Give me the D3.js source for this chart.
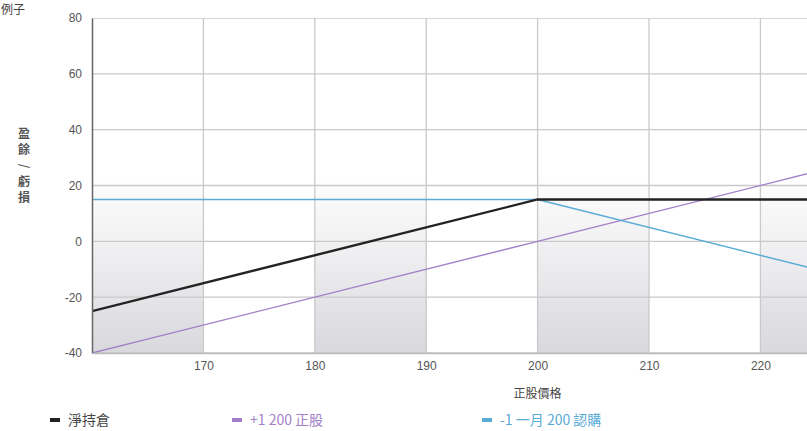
<!DOCTYPE html>
<html><head><meta charset="utf-8">
<script src="https://cdn.jsdelivr.net/npm/d3@7"></script>
<style>body{margin:0;background:#fff;}svg{display:block;font-family:"Noto Sans CJK TC","Noto Sans",sans-serif;}</style>
</head><body>
<svg id="c" width="807" height="431"></svg>
<script>
const xTicks = [170, 180, 190, 200, 210, 220];
const yTicks = [-40, -20, 0, 20, 40, 60, 80];
const priceX = [160, 200, 225];
const netPos = [-25, 15, 15];
const stockPos = [-40, 0, 25];
const callPos = [15, 15, -10];
const shadeBands = [[160, 170], [180, 190], [200, 210], [220, 230]];
const seriesNames = ["淨持倉", "+1 200 正股", "-1 一月 200 認購"];
const seriesColors = ["#222222", "#a47fc9", "#5aaad6"];

const svg = d3.select("#c");
const L = 92, T = 18, B = 353;
const x = d3.scaleLinear().domain([160, 225]).range([L, L + 65 * 11.14]);
const y = d3.scaleLinear().domain([-40, 80]).range([B, T]);

const defs = svg.append("defs");
const g = defs.append("linearGradient").attr("id", "sh").attr("x1", 0).attr("x2", 0).attr("y1", 0).attr("y2", 1);
g.append("stop").attr("offset", "0%").attr("stop-color", "#c8c8cf").attr("stop-opacity", 0);
g.append("stop").attr("offset", "45%").attr("stop-color", "#c8c8cf").attr("stop-opacity", 0.3);
g.append("stop").attr("offset", "100%").attr("stop-color", "#c8c8cf").attr("stop-opacity", 0.7);
defs.append("clipPath").attr("id", "clip").append("rect").attr("x", L).attr("y", T).attr("width", 807 - L).attr("height", B - T);

const plot = svg.append("g").attr("clip-path", "url(#clip)");
plot.selectAll("rect.band").data(shadeBands).join("rect")
  .attr("x", d => x(d[0])).attr("width", d => x(d[1]) - x(d[0]))
  .attr("y", y(24)).attr("height", y(-40) - y(24))
  .attr("fill", "url(#sh)");

// grid
plot.selectAll("line.hg").data(yTicks).join("line")
  .attr("x1", L).attr("x2", 807).attr("y1", d => y(d)).attr("y2", d => y(d))
  .attr("stroke", "#c9c9c9").attr("stroke-width", 1.3);
plot.selectAll("line.vg").data(xTicks).join("line")
  .attr("y1", T).attr("y2", B).attr("x1", d => x(d)).attr("x2", d => x(d))
  .attr("stroke", "#c9c9c9").attr("stroke-width", 1.3);

// axes
const ya = svg.append("g").attr("transform", `translate(${L},0)`)
  .call(d3.axisLeft(y).tickValues(yTicks).tickSize(0).tickPadding(10).tickFormat(d => String(d)));
ya.select(".domain").attr("stroke", "#666").attr("stroke-width", 1.5);
ya.selectAll("text").attr("fill", "#555").attr("font-size", 12).attr("font-family", "Arial, Liberation Sans, sans-serif");
const xa = svg.append("g").attr("transform", `translate(0,${B})`)
  .call(d3.axisBottom(x).tickValues(xTicks).tickSize(0).tickPadding(8).tickFormat(d => String(d)));
xa.select(".domain").attr("stroke", "#bbb").attr("stroke-width", 1.3);
xa.selectAll("text").attr("fill", "#555").attr("font-size", 12).attr("font-family", "Arial, Liberation Sans, sans-serif");

// lines
const line = d3.line().x((d, i) => x(priceX[i])).y(d => y(d));
const data = [stockPos, callPos, netPos];
const cols = [seriesColors[1], seriesColors[2], seriesColors[0]];
const widths = [1.4, 1.4, 2.4];
data.forEach((s, i) => {
  plot.append("path").attr("d", line(s)).attr("fill", "none")
    .attr("stroke", cols[i]).attr("stroke-width", widths[i]);
});

// titles
svg.append("text").attr("x", 1).attr("y", 14).attr("font-size", 12).attr("fill", "#444").text("例子");
const yl = ["盈", "餘", "/", "虧", "損"];
svg.append("g").selectAll("text").data(yl).join("text")
  .attr("x", 24).attr("y", (d, i) => 138 + i * 16)
  .attr("text-anchor", "middle").attr("font-size", 12).attr("font-weight", "bold").attr("fill", "#555")
  .attr("transform", (d, i) => d === "/" ? `rotate(90,24,${134 + i * 16})` : null)
  .text(d => d);
svg.append("text").attr("x", x(200)).attr("y", 398).attr("text-anchor", "middle")
  .attr("font-size", 12).attr("fill", "#444").text("正股價格");

// legend
const legX = [50, 232, 482];
const lg = svg.append("g").selectAll("g").data(seriesNames).join("g")
  .attr("transform", (d, i) => `translate(${legX[i]},420)`);
lg.append("rect").attr("x", 0).attr("y", -2).attr("width", 10).attr("height", 4).attr("fill", (d, i) => seriesColors[i]);
lg.append("text").attr("x", 18).attr("y", 5).attr("font-size", 14)
  .attr("fill", (d, i) => i === 0 ? "#444" : seriesColors[i]).text(d => d);
</script>
</body></html>
